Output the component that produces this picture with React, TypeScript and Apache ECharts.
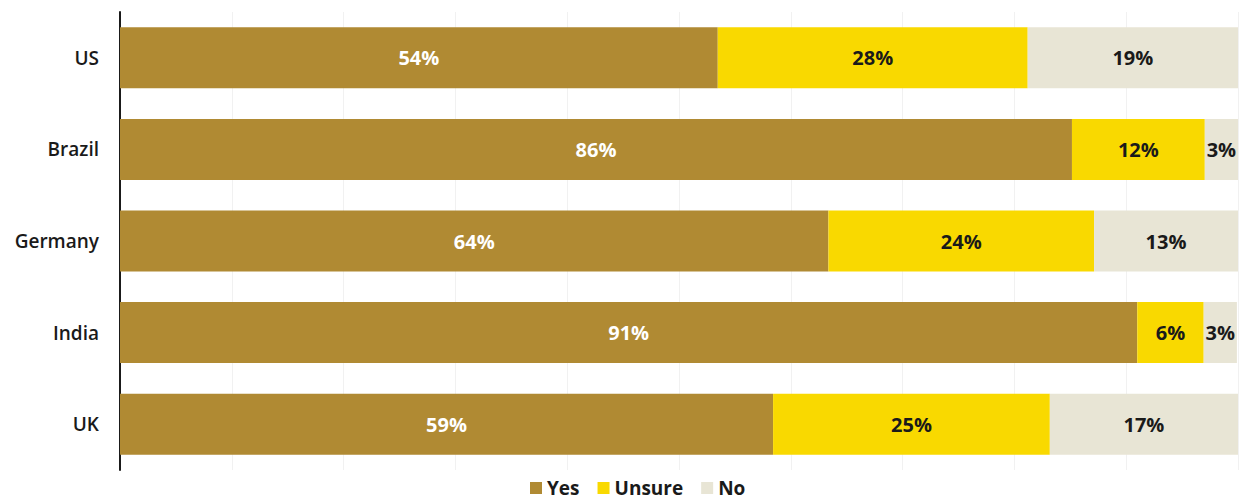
import React, { useEffect, useRef } from "react";
import * as echarts from "echarts";

const categories = ["US", "Brazil", "Germany", "India", "UK"];
const seriesNames = ["Yes", "Unsure", "No"];
const yesValues = [54, 86, 64, 91.9, 59];
const unsureValues = [28, 12, 24, 6, 25];
const noValues = [19, 3, 13, 3, 17];
const colors = ["#B08A33", "#F9D900", "#E8E5D5"];
const labelColors = ["#ffffff", "#1a1a1a", "#1a1a1a"];

const FONT = "'Open Sans', 'Noto Sans', sans-serif";

export default function App() {
  const ref = useRef<HTMLDivElement>(null);
  useEffect(() => {
    if (!ref.current) return;
    const chart = echarts.init(ref.current, null, { renderer: "svg" });
    const values = [yesValues, unsureValues, noValues];
    chart.setOption({
      animation: false,
      backgroundColor: "#ffffff",
      textStyle: { fontFamily: FONT },
      grid: { left: 120, right: 3, top: 12, height: 458 },
      legend: {
        top: 478,
        left: 530,
        padding: 0,
        icon: "rect",
        itemWidth: 12,
        itemHeight: 12,
        itemGap: 18,
        textStyle: {
          fontSize: 19,
          lineHeight: 20,
          fontWeight: "bold",
          color: "#1a1a1a",
          fontFamily: FONT,
          padding: [0, 0, 0, 0],
        },
        data: seriesNames,
      },
      xAxis: [
        { type: "value", min: 0, max: 101, show: false },
        {
          type: "value",
          min: 0,
          max: 100,
          interval: 10,
          position: "bottom",
          axisLine: { show: false },
          axisTick: { show: false },
          axisLabel: { show: false },
          splitLine: { show: true, lineStyle: { color: "#f1f1f1", width: 1 } },
        },
      ],
      yAxis: {
        type: "category",
        inverse: true,
        data: categories,
        axisLine: { show: true, lineStyle: { color: "#1a1a1a", width: 2 } },
        axisTick: { show: false },
        axisLabel: { fontSize: 19, fontWeight: 600, color: "#1a1a1a", margin: 21, fontFamily: FONT },
      },
      series: seriesNames.map((name, i) => ({
        name,
        type: "bar",
        stack: "total",
        xAxisIndex: 0,
        barWidth: "66.6%",
        itemStyle: { color: colors[i] },
        label: {
          show: true,
          position: "inside",
          formatter: (p: any) => Math.floor(p.value) + "%",
          color: labelColors[i],
          fontSize: 20,
          fontWeight: "bold",
          fontFamily: FONT,
        },
        emphasis: { disabled: true },
        data: values[i],
      })),
    });
    return () => chart.dispose();
  }, []);
  return (
    <div
      ref={ref}
      style={{ position: "fixed", left: 0, top: 0, width: 1241, height: 500 }}
    />
  );
}
